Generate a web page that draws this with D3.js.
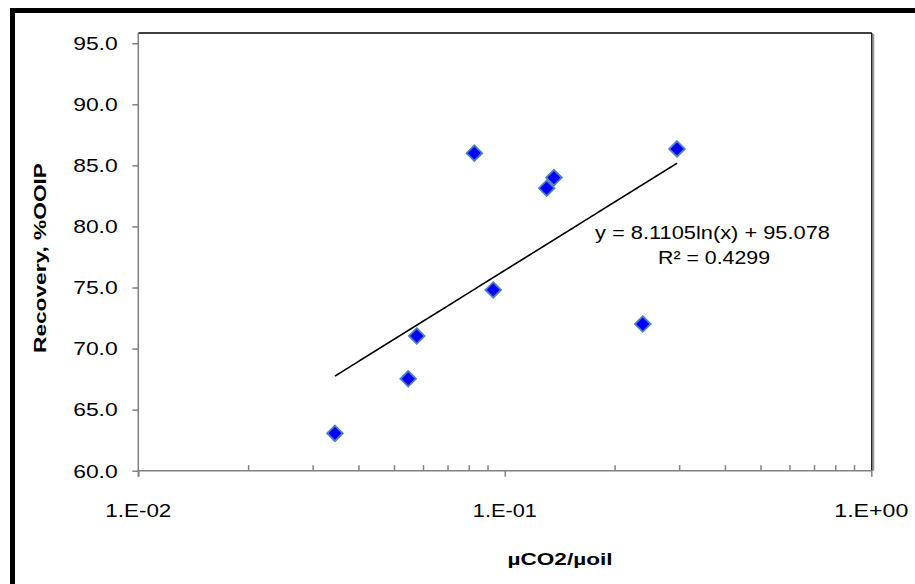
<!DOCTYPE html>
<html>
<head>
<meta charset="utf-8">
<script src="https://cdn.jsdelivr.net/npm/d3@7"></script>
<style>
  html, body { margin: 0; padding: 0; background: #fff; }
  svg { display: block; }
  text { font-family: "Liberation Sans", Arial, sans-serif; fill: #000; }
</style>
</head>
<body>
<svg id="chart" width="915" height="584"></svg>
<script>
// ---- data ----
const xValues = [0.0344, 0.0545, 0.0575, 0.0826, 0.0930, 0.1301, 0.1362, 0.2379, 0.295];
const yValues = [63.06, 67.53, 71.03, 86.0, 74.8, 83.13, 84.0, 72.01, 86.35];
const yTicks = [60, 65, 70, 75, 80, 85, 90, 95];
const xMajorTicks = [0.01, 0.1, 1];
const xTickLabels = ["1.E-02", "1.E-01", "1.E+00"];
const trendCoef = [8.1105, 95.078];        // y = a ln(x) + b (as shown on the chart)
const trendLabel = ["y = 8.1105ln(x) + 95.078", "R\u00B2 = 0.4299"];
const xTitle = "\u00B5CO2/\u00B5oil";
const yTitle = "Recovery, %OOIP";

// ---- layout ----
const svg = d3.select("#chart");
const plot = { left: 138.3, right: 871.3, top: 33, bottom: 470.7 };

// outer chart border (extends beyond the visible page on right/bottom)
svg.append("rect")
  .attr("x", 12.5).attr("y", 10.5)
  .attr("width", 1000).attr("height", 700)
  .attr("fill", "none").attr("stroke", "#000").attr("stroke-width", 5);

const x = d3.scaleLog().domain([0.01, 1]).range([plot.left, plot.right]);
const y = d3.scaleLinear().domain([60, 95.84]).range([plot.bottom, plot.top]);

// plot frame top / right
svg.append("line").attr("x1", plot.left).attr("x2", plot.right + 0.5)
  .attr("y1", plot.top).attr("y2", plot.top).attr("stroke", "#000").attr("stroke-width", 1.3);
svg.append("line").attr("x1", plot.right + 2.2).attr("x2", plot.right + 2.2)
  .attr("y1", plot.top + 1).attr("y2", plot.bottom).attr("stroke", "#999").attr("stroke-width", 1.6);
svg.append("line").attr("x1", plot.right + 0.5).attr("x2", plot.right + 0.5)
  .attr("y1", plot.top).attr("y2", plot.bottom).attr("stroke", "#000").attr("stroke-width", 1.3);

// y axis
const yAxis = d3.axisLeft(y).tickValues(yTicks).tickSize(6).tickFormat("");
const gy = svg.append("g").attr("transform", `translate(${plot.left},0)`).call(yAxis);
gy.select(".domain").attr("stroke", "#808080").attr("stroke-width", 1.5).attr("d", `M0,${plot.top}V${plot.bottom + 6}`);
gy.selectAll(".tick line").attr("stroke", "#808080").attr("stroke-width", 1.5);

svg.append("g").selectAll("text").data(yTicks).join("text")
  .attr("x", 117.7).attr("y", d => y(d) + 6.8)
  .attr("text-anchor", "end")
  .attr("font-size", 19)
  .attr("textLength", 44.5).attr("lengthAdjust", "spacingAndGlyphs")
  .text(d => d.toFixed(1));

// x axis: major ticks (outside, down)
const gx = svg.append("g").attr("transform", `translate(0,${plot.bottom})`)
  .call(d3.axisBottom(x).tickValues(xMajorTicks).tickSize(6).tickFormat(""));
gx.select(".domain").attr("stroke", "#808080").attr("stroke-width", 1.5).attr("d", `M${plot.left},0H${plot.right}`);
gx.selectAll(".tick line").attr("stroke", "#808080").attr("stroke-width", 1.5);

// minor ticks (inside, up)
const minorTicks = [];
[0.01, 0.1].forEach(dec => { for (let k = 2; k <= 9; k++) minorTicks.push(dec * k); });
svg.append("g").selectAll("line").data(minorTicks).join("line")
  .attr("x1", d => x(d)).attr("x2", d => x(d))
  .attr("y1", plot.bottom).attr("y2", plot.bottom - 5.5)
  .attr("stroke", "#808080").attr("stroke-width", 1.5);

const xLabelWidths = [66, 64, 74];
svg.append("g").selectAll("text").data(xMajorTicks).join("text")
  .attr("x", d => x(d)).attr("y", 516.5)
  .attr("text-anchor", "middle")
  .attr("font-size", 19)
  .attr("textLength", (d, i) => xLabelWidths[i]).attr("lengthAdjust", "spacingAndGlyphs")
  .text((d, i) => xTickLabels[i]);

// axis titles
svg.append("text")
  .attr("x", 560).attr("y", 565)
  .attr("text-anchor", "middle")
  .attr("font-size", 16.5).attr("font-weight", "bold")
  .attr("textLength", 105).attr("lengthAdjust", "spacingAndGlyphs")
  .text(xTitle);

svg.append("text")
  .attr("transform", "translate(46,258) rotate(-90)")
  .attr("text-anchor", "middle")
  .attr("font-size", 17).attr("font-weight", "bold")
  .attr("textLength", 190).attr("lengthAdjust", "spacingAndGlyphs")
  .text(yTitle);

// trendline
const xMin = d3.min(xValues), xMax = d3.max(xValues);
const trendXs = d3.range(0, 101).map(i => xMin * Math.pow(xMax / xMin, i / 100));
svg.append("path")
  .datum(trendXs)
  .attr("fill", "none").attr("stroke", "#000").attr("stroke-width", 1.6)
  .attr("d", d3.line().x(d => x(d)).y(d => y(trendCoef[0] * Math.log(d) + trendCoef[1])));

// points
const pts = xValues.map((v, i) => ({ x: v, y: yValues[i] }));
const r = 7.8;
svg.append("g").selectAll("path").data(pts).join("path")
  .attr("transform", d => `translate(${x(d.x)},${y(d.y)})`)
  .attr("d", `M0,${-r}L${r},0L0,${r}L${-r},0Z`)
  .attr("fill", "#0000FF").attr("stroke", "#4F81BD").attr("stroke-width", 1.8);

// trendline label
svg.append("text")
  .attr("x", 712.5).attr("y", 239.3)
  .attr("text-anchor", "middle").attr("font-size", 19)
  .attr("textLength", 235).attr("lengthAdjust", "spacingAndGlyphs")
  .text(trendLabel[0]);
svg.append("text")
  .attr("x", 714).attr("y", 264)
  .attr("text-anchor", "middle").attr("font-size", 19)
  .attr("textLength", 112).attr("lengthAdjust", "spacingAndGlyphs")
  .text(trendLabel[1]);
</script>
</body>
</html>
